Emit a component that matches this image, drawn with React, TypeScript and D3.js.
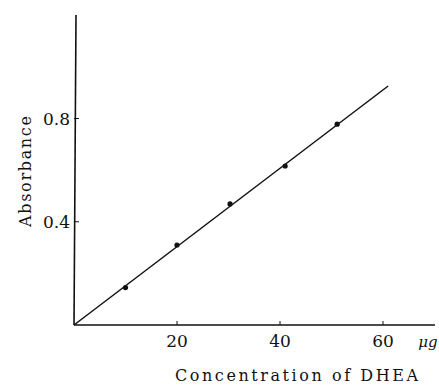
import React from "react";
import * as d3 from "d3";

const concentration = [10, 20, 30.3, 41, 51.1];
const absorbance = [0.145, 0.31, 0.469, 0.616, 0.778];
const fitLine = [
  { x: 0, y: 0 },
  { x: 61, y: 0.926 },
];
const xTicks = [20, 40, 60];
const yTicks = [0.4, 0.8];
const xTitle = "Concentration of DHEA";
const yTitle = "Absorbance";
const xUnit = "μg";

const W = 439;
const H = 385;

export default function App() {
  const x = d3.scaleLinear().domain([0, 60]).range([74, 383]);
  const y = d3.scaleLinear().domain([0, 0.8]).range([325, 118.5]);
  const line = d3
    .line<{ x: number; y: number }>()
    .x((d) => x(d.x))
    .y((d) => y(d.y));
  const fontStyle = { fontFamily: '"DejaVu Serif", "Liberation Serif", serif' };
  const x0 = x(0);
  const y0 = y(0);
  return (
    <svg
      width={W}
      height={H}
      style={{ position: "absolute", left: 0, top: 0, background: "#fff" }}
    >
      <rect width={W} height={H} fill="#fff" />
      {/* axes */}
      <line x1={x0} y1={y0} x2={435} y2={y0} stroke="#111" strokeWidth={1.6} />
      <line x1={x0} y1={y0} x2={x0 + 2} y2={15} stroke="#111" strokeWidth={1.6} />
      {xTicks.map((t) => (
        <g key={t}>
          <line x1={x(t)} x2={x(t)} y1={y0} y2={y0 - 4} stroke="#111" strokeWidth={1} />
          <text x={x(t)} y={347} textAnchor="middle" fontSize={17} fill="#111" style={fontStyle}>
            {t}
          </text>
        </g>
      ))}
      <text x={428} y={347} textAnchor="middle" fontSize={15} fontStyle="italic" fill="#111" style={fontStyle}>
        {xUnit}
      </text>
      {yTicks.map((t) => (
        <g key={t}>
          <line x1={x0} x2={x0 + 5} y1={y(t)} y2={y(t)} stroke="#111" strokeWidth={1} />
          <text x={70} y={y(t) + 6} textAnchor="end" fontSize={17} fill="#111" style={fontStyle}>
            {t.toFixed(1)}
          </text>
        </g>
      ))}
      {/* fit line */}
      <path d={line(fitLine) || ""} fill="none" stroke="#111" strokeWidth={1.5} />
      {/* points */}
      {concentration.map((c, i) => (
        <circle key={i} cx={x(c)} cy={y(absorbance[i])} r={2.6} fill="#111" />
      ))}
      {/* titles */}
      <text
        x={175}
        y={381}
        fontSize={16}
        fill="#111"
        textLength={243}
        lengthAdjust="spacing"
        style={fontStyle}
      >
        {xTitle}
      </text>
      <text
        transform={`translate(31, 227) rotate(-90)`}
        x={0}
        y={0}
        fontSize={16}
        fill="#111"
        textLength={111}
        lengthAdjust="spacing"
        style={fontStyle}
      >
        {yTitle}
      </text>
    </svg>
  );
}
